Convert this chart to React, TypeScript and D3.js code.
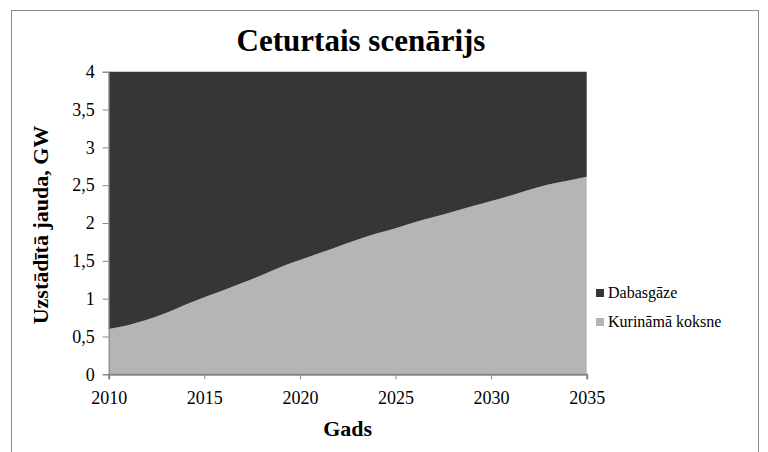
import { useEffect, useRef } from "react";
import * as d3 from "d3";

// years and installed capacity (GW)
const years = d3.range(2010, 2036);
const koksne = [
    0.6, 0.65, 0.72, 0.81, 0.92, 1.02, 1.11, 1.21, 1.31, 1.42, 1.51, 1.6, 1.69,
    1.78, 1.86, 1.93, 2.01, 2.08, 2.15, 2.22, 2.29, 2.36, 2.44, 2.51, 2.56, 2.61,
];
const dabasgaze = koksne.map((v) => +(4 - v).toFixed(2));
const seriesNames = ["Kurināmā koksne", "Dabasgāze"];
const seriesColors = ["#b5b5b5", "#363636"];
const yTicks = [0, 0.5, 1, 1.5, 2, 2.5, 3, 3.5, 4];
const xTicks = [2010, 2015, 2020, 2025, 2030, 2035];

const W = 768;
const H = 452;
const font = "'Liberation Serif', 'DejaVu Serif', serif";

export default function App() {
    const svgRef = useRef<SVGSVGElement>(null);

    useEffect(() => {
        if (!svgRef.current) return;
        const svg = d3.select(svgRef.current);
        svg.selectAll("*").remove();

        const left = 108.7, right = 586.7, top = 71.7, bottom = 374.3;

        // outer frame
        svg.append("rect")
            .attr("x", 11.5).attr("y", 10.5)
            .attr("width", 747).attr("height", 460)
            .attr("fill", "white").attr("stroke", "#8c8c8c").attr("stroke-width", 1);

        const x = d3.scaleLinear().domain([2010, 2035]).range([left, right]);
        const y = d3.scaleLinear().domain([0, 4]).range([bottom, top]);

        const rows = years.map((yr, i) => ({ year: yr, k: koksne[i], d: dabasgaze[i] }));
        const stacked = d3.stack<any>().keys(["k", "d"])(rows);

        const area = d3.area<any>()
            .x((d) => x(d.data.year))
            .y0((d) => y(d[0]))
            .y1((d) => y(d[1]))
            .curve(d3.curveMonotoneX);

        svg.append("g")
            .selectAll("path")
            .data(stacked)
            .enter()
            .append("path")
            .attr("d", area as any)
            .attr("fill", (_, i) => seriesColors[i]);

        // y axis
        const yAxis = svg.append("g").attr("transform", `translate(${left},0)`)
            .call(d3.axisLeft(y).tickValues(yTicks).tickSize(6).tickPadding(8)
                .tickFormat((d) => String(d).replace(".", ",")));
        yAxis.attr("font-family", null);
        yAxis.select(".domain").attr("stroke", "#868686");
        yAxis.selectAll("line").attr("stroke", "#868686");
        yAxis.selectAll("text").style("font-family", font).style("font-size", "18px").attr("fill", "#000");

        // x axis
        const xAxis = svg.append("g").attr("transform", `translate(0,${bottom})`)
            .call(d3.axisBottom(x).tickValues(xTicks).tickSize(5).tickPadding(12)
                .tickFormat((d) => String(d)));
        xAxis.attr("font-family", null);
        xAxis.select(".domain").attr("stroke", "#868686").attr("stroke-width", 2);
        xAxis.selectAll("line").attr("stroke", "#868686");
        xAxis.selectAll("text").style("font-family", font).style("font-size", "18px").attr("fill", "#000");

        // title
        svg.append("text")
            .attr("x", 361).attr("y", 51)
            .attr("text-anchor", "middle")
            .style("font-family", font).style("font-weight", "bold").style("font-size", "31px")
            .text("Ceturtais scenārijs");

        svg.append("text")
            .attr("x", (left + right) / 2).attr("y", 436)
            .attr("text-anchor", "middle")
            .style("font-family", font).style("font-weight", "bold").style("font-size", "22px")
            .text("Gads");

        svg.append("text")
            .attr("transform", `translate(48,${(top + bottom) / 2 + 2}) rotate(-90)`)
            .attr("text-anchor", "middle")
            .style("font-family", font).style("font-weight", "bold").style("font-size", "22px")
            .text("Uzstādītā jauda, GW");

        // legend (Dabasgāze first)
        const legend = [1, 0];
        legend.forEach((si, i) => {
            const ly = 293 + i * 29;
            svg.append("rect")
                .attr("x", 596).attr("y", ly - 4)
                .attr("width", 8).attr("height", 8)
                .attr("fill", seriesColors[si]);
            svg.append("text")
                .attr("x", 608).attr("y", ly + 5)
                .style("font-family", font).style("font-size", "16px")
                .text(seriesNames[si]);
        });
    }, []);

    return (
        <svg
            ref={svgRef}
            width={W}
            height={H}
            style={{ position: "absolute", left: 0, top: 0, background: "white", fontFamily: font }}
        />
    );
}
